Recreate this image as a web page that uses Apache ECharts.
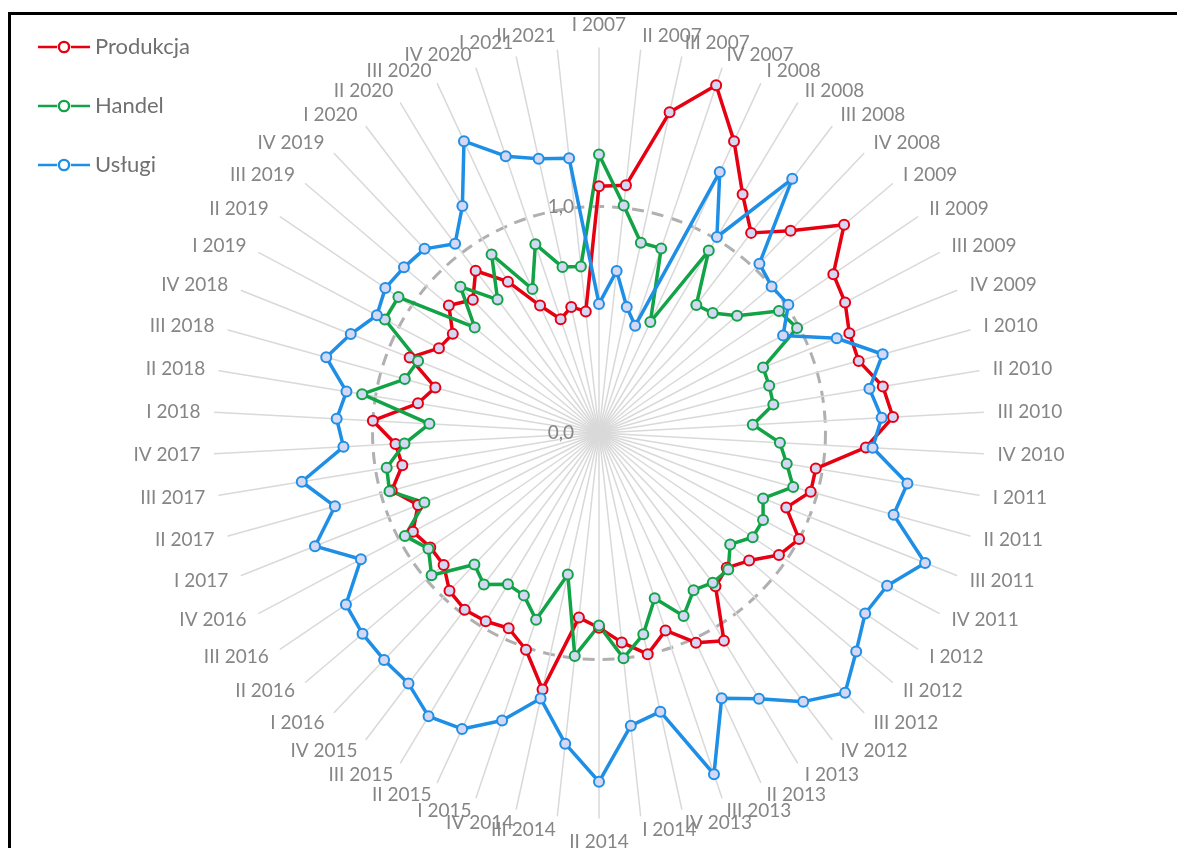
<!DOCTYPE html>
<html><head><meta charset="utf-8">
<script src="https://cdn.jsdelivr.net/npm/echarts@6/dist/echarts.min.js"></script>
<style>html,body{margin:0;padding:0;background:#fff}#c{width:1177px;height:848px}</style>
</head><body><div id="c"></div>
<script>
const categories = ['I 2007','II 2007','III 2007','IV 2007','I 2008','II 2008','III 2008','IV 2008',
 'I 2009','II 2009','III 2009','IV 2009','I 2010','II 2010','III 2010','IV 2010',
 'I 2011','II 2011','III 2011','IV 2011','I 2012','II 2012','III 2012','IV 2012',
 'I 2013','II 2013','III 2013','IV 2013','I 2014','II 2014','III 2014','IV 2014',
 'I 2015','II 2015','III 2015','IV 2015','I 2016','II 2016','III 2016','IV 2016',
 'I 2017','II 2017','III 2017','IV 2017','I 2018','II 2018','III 2018','IV 2018',
 'I 2019','II 2019','III 2019','IV 2019','I 2020','II 2020','III 2020','IV 2020',
 'I 2021','II 2021'];
const produkcja = [1.09,1.10,1.45,1.62,1.42,1.23,1.11,1.23,1.42,1.25,
 1.23,1.19,1.19,1.27,1.30,1.18,0.97,0.97,0.89,1.00,
 0.96,0.87,0.82,0.85,1.07,1.02,0.92,1.00,0.93,0.86,
 0.82,1.16,1.01,0.95,0.97,0.98,0.96,0.90,0.90,0.93,
 0.86,0.95,0.88,0.90,1.00,0.81,0.75,0.90,0.80,0.78,
 0.87,0.81,0.90,0.78,0.62,0.53,0.57,0.54];
const handel = [1.23,1.01,0.86,0.86,0.54,0.94,0.71,0.73,0.80,0.96,
 0.99,0.78,0.78,0.78,0.68,0.80,0.84,0.89,0.78,0.82,
 0.82,0.76,0.83,0.83,0.81,0.89,0.77,0.91,1.00,0.85,
 0.99,0.64,0.87,0.79,0.78,0.84,0.80,0.97,0.91,0.97,
 0.83,0.96,0.95,0.86,0.75,1.06,0.89,0.86,1.07,1.07,
 0.72,0.89,0.74,0.92,0.70,0.88,0.75,0.74];
const uslugi = [0.57,0.72,0.57,0.50,1.27,1.01,1.41,1.03,1.00,1.01,
 0.92,1.13,1.30,1.21,1.25,1.21,1.38,1.35,1.55,1.44,
 1.42,1.49,1.58,1.49,1.37,1.29,1.59,1.26,1.30,1.54,
 1.38,1.20,1.34,1.44,1.46,1.39,1.38,1.37,1.35,1.19,
 1.35,1.21,1.33,1.13,1.16,1.13,1.25,1.18,1.11,1.14,
 1.13,1.12,1.05,1.17,1.42,1.29,1.24,1.22];
const seriesNames = ['Produkcja','Handel','Usługi'];
const seriesColors = ['#e60012','#12a347','#1f8fe6'];
const axisMin = 0, axisMax = 1.7, axisStep = 0.1;
const tickLabels = {0: '0,0', 1: '1,0'};
const refCircleValue = 1.0;

// ECharts radar runs counter-clockwise; reorder so the categories run clockwise from the top
const cw = arr => [arr[0]].concat(arr.slice(1).reverse());

const FONT = 'Lato';
const labelColor = '#858585';
const splitCount = Math.round((axisMax - axisMin) / axisStep);
const splitColors = [];
for (let i = 0; i <= splitCount; i++) {
  splitColors.push(Math.abs(axisMin + i * axisStep - refCircleValue) < 1e-6 ? '#b0b0b0' : 'rgba(0,0,0,0)');
}

const indicator = cw(categories).map((n, i) => {
  const o = {name: n, min: axisMin, max: axisMax};
  if (i === 0) {
    o.axisLabel = {
      show: true, margin: 25, color: labelColor, fontSize: 19, fontFamily: FONT,
      formatter: v => {
        for (const k in tickLabels) if (Math.abs(v - Number(k)) < 1e-6) return tickLabels[k];
        return '';
      }
    };
  }
  return o;
});

const legendIcon = 'path://M0,6L19,6L19,8.6L0,8.6Z M33,6L52,6L52,8.6L33,8.6Z M26,1A6.3,6.3,0,1,1,25.99,1Z M26,3.4A3.9,3.9,0,1,0,26.01,3.4Z';

const values = [produkcja, handel, uslugi];
const chart = echarts.init(document.getElementById('c'), null, {renderer: 'canvas'});
chart.setOption({
  animation: false,
  backgroundColor: '#fff',
  color: seriesColors,
  legend: {
    orient: 'vertical', left: 38, top: 36, padding: 0, itemWidth: 52, itemHeight: 13, itemGap: 37,
    icon: legendIcon,
    textStyle: {color: '#707070', fontSize: 22, fontFamily: FONT},
    data: seriesNames.map((n, i) => ({name: n, itemStyle: {color: seriesColors[i], borderWidth: 0}}))
  },
  radar: {
    center: [599, 433],
    radius: 385,
    startAngle: 90,
    shape: 'circle',
    splitNumber: splitCount,
    indicator: indicator,
    axisName: {color: labelColor, fontSize: 19, fontFamily: FONT},
    axisNameGap: 14,
    axisLine: {show: true, lineStyle: {color: '#d9d9d9', width: 1.5}},
    axisTick: {show: false},
    axisLabel: {show: false},
    splitLine: {show: true, lineStyle: {color: splitColors, width: 3, type: [12, 8]}},
    splitArea: {show: false}
  },
  series: [{
    type: 'radar',
    silent: true,
    data: seriesNames.map((n, i) => ({
      name: n,
      value: cw(values[i]),
      symbol: 'circle',
      symbolSize: 10,
      lineStyle: {color: seriesColors[i], width: 3.5},
      itemStyle: {color: '#d5d8f5', borderColor: seriesColors[i], borderWidth: 2}
    }))
  }],
  graphic: [{
    type: 'rect', silent: true, z: 100,
    shape: {x: 9.5, y: 13.5, width: 1400, height: 1000},
    style: {fill: 'none', stroke: '#000', lineWidth: 3}
  }]
});
</script></body></html>
